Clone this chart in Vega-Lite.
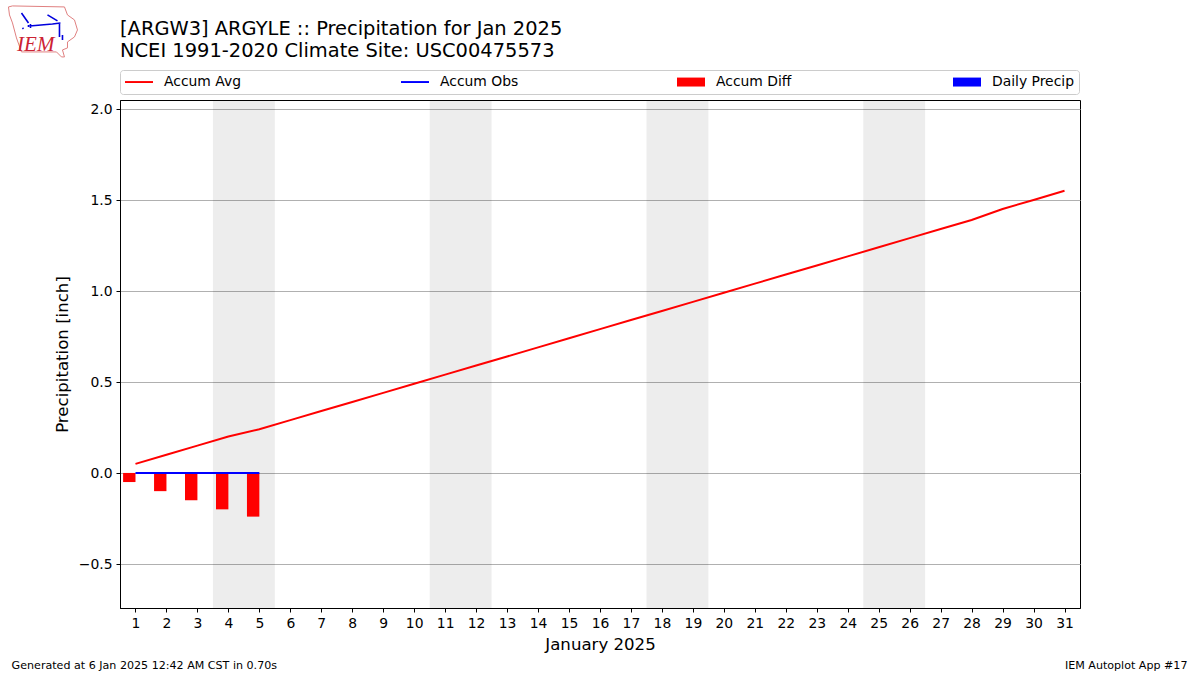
{
"$schema":"https://vega.github.io/schema/vega-lite/v6.json",
"width":960,"height":508,
"autosize":{"type":"none"},
"padding":{"left":120,"top":100,"right":120,"bottom":67},
"background":"white",
"title":{"text":["[ARGW3] ARGYLE :: Precipitation for Jan 2025","NCEI 1991-2020 Climate Site: USC00475573"],"anchor":"start","frame":"group","font":"DejaVu Sans","fontSize":19.44,"fontWeight":"normal","lineHeight":22,"color":"#000","offset":9,"dy":67},
"config":{"font":"DejaVu Sans","view":{"stroke":"#000","strokeWidth":1}},
"datasets":{
"series":[
{"day":1,"series":"Accum Avg","value":0.05},{"day":2,"series":"Accum Avg","value":0.10},{"day":3,"series":"Accum Avg","value":0.15},{"day":4,"series":"Accum Avg","value":0.20},{"day":5,"series":"Accum Avg","value":0.24},{"day":6,"series":"Accum Avg","value":0.29},{"day":7,"series":"Accum Avg","value":0.34},{"day":8,"series":"Accum Avg","value":0.39},{"day":9,"series":"Accum Avg","value":0.44},{"day":10,"series":"Accum Avg","value":0.49},{"day":11,"series":"Accum Avg","value":0.54},{"day":12,"series":"Accum Avg","value":0.59},{"day":13,"series":"Accum Avg","value":0.64},{"day":14,"series":"Accum Avg","value":0.69},{"day":15,"series":"Accum Avg","value":0.74},{"day":16,"series":"Accum Avg","value":0.79},{"day":17,"series":"Accum Avg","value":0.84},{"day":18,"series":"Accum Avg","value":0.89},{"day":19,"series":"Accum Avg","value":0.94},{"day":20,"series":"Accum Avg","value":0.99},{"day":21,"series":"Accum Avg","value":1.04},{"day":22,"series":"Accum Avg","value":1.09},{"day":23,"series":"Accum Avg","value":1.14},{"day":24,"series":"Accum Avg","value":1.19},{"day":25,"series":"Accum Avg","value":1.24},{"day":26,"series":"Accum Avg","value":1.29},{"day":27,"series":"Accum Avg","value":1.34},{"day":28,"series":"Accum Avg","value":1.39},{"day":29,"series":"Accum Avg","value":1.45},{"day":30,"series":"Accum Avg","value":1.50},{"day":31,"series":"Accum Avg","value":1.55},
{"day":1,"series":"Accum Obs","value":0},{"day":2,"series":"Accum Obs","value":0},{"day":3,"series":"Accum Obs","value":0},{"day":4,"series":"Accum Obs","value":0},{"day":5,"series":"Accum Obs","value":0},
{"day":1,"series":"Accum Diff","value":-0.05},{"day":2,"series":"Accum Diff","value":-0.10},{"day":3,"series":"Accum Diff","value":-0.15},{"day":4,"series":"Accum Diff","value":-0.20},{"day":5,"series":"Accum Diff","value":-0.24},
{"day":1,"series":"Daily Precip","value":0},{"day":2,"series":"Daily Precip","value":0},{"day":3,"series":"Daily Precip","value":0},{"day":4,"series":"Daily Precip","value":0},{"day":5,"series":"Daily Precip","value":0}
],
"weekends":[{"start":3.5,"end":5.5},{"start":10.5,"end":12.5},{"start":17.5,"end":19.5},{"start":24.5,"end":26.5}]
},
"data":{"name":"series"},
"encoding":{
"x":{"type":"quantitative","scale":{"domain":[0.5,31.5],"nice":false,"zero":false,"padding":0},
"axis":{"values":[1,2,3,4,5,6,7,8,9,10,11,12,13,14,15,16,17,18,19,20,21,22,23,24,25,26,27,28,29,30,31],"format":"d","grid":false,"labelAngle":0,"labelFontSize":13.9,"labelColor":"#000","labelPadding":4,"tickColor":"#000","tickSize":4,"domainColor":"#000","title":"January 2025","titleFontSize":16.6,"titleFontWeight":"normal","titleColor":"#000","titlePadding":7,"labelFlush":false,"labelOverlap":false}},
"y":{"type":"quantitative","scale":{"domain":[-0.742,2.049],"nice":false,"zero":false},
"axis":{"values":[-0.5,0,0.5,1,1.5,2],"format":".1f","grid":true,"gridColor":"#b0b0b0","gridWidth":1,"labelFontSize":13.9,"labelColor":"#000","labelPadding":4,"labelOffset":1,"tickColor":"#000","tickSize":4,"domainColor":"#000","title":"Precipitation [inch]","titleFontSize":16.6,"titleFontWeight":"normal","titleColor":"#000","titlePadding":8}},
"color":{"field":"series","type":"nominal","scale":{"domain":["Accum Avg","Accum Obs","Accum Diff","Daily Precip"],"range":["#ff0000","#0000ff","#ff0000","#0000ff"]},"legend":{"title":null,"orient":"none","legendX":0,"legendY":-30,"columns":4,"gridAlign":"all","columnPadding":155,"symbolSize":196,"symbolOpacity":1,"labelFontSize":13.9,"labelColor":"#000","labelOffset":25,"strokeColor":"#cccccc","cornerRadius":3,"fillColor":"#ffffff","padding":5,"symbolStrokeWidth":0,"values":["Accum Avg","Accum Obs","Accum Diff","Daily Precip"]}}
},
"layer":[
{"data":{"name":"weekends"},"mark":{"type":"rect","fill":"#000","opacity":0.07},
"encoding":{"color":{"value":"#000"},"x":{"field":"start","type":"quantitative"},"x2":{"field":"end"},"y":{"datum":-0.742},"y2":{"datum":2.049}}},
{"transform":[{"filter":"datum.series=='Accum Diff' || datum.series=='Daily Precip'"}],
"mark":{"type":"bar","width":12.4,"xOffset":-6.2},
"encoding":{"x":{"field":"day","type":"quantitative"},"y":{"field":"value","type":"quantitative"}}},
{"transform":[{"filter":"datum.series=='Accum Avg' || datum.series=='Accum Obs'"}],
"mark":{"type":"line","strokeWidth":2},
"encoding":{"x":{"field":"day","type":"quantitative"},"y":{"field":"value","type":"quantitative"}}},
{"mark":{"type":"point","filled":true,"size":0,"opacity":1},
"encoding":{"x":{"field":"day","type":"quantitative"},"y":{"field":"value","type":"quantitative"},
"shape":{"field":"series","type":"nominal","scale":{"domain":["Accum Avg","Accum Obs","Accum Diff","Daily Precip"],"range":["M-1,-0.14H3V0.14H-1Z","M-1,-0.14H3V0.14H-1Z","M-1,-0.64H3V0.64H-1Z","M-1,-0.64H3V0.64H-1Z"]}}}},
{"data":{"values":[{"note":"Generated at 6 Jan 2025 12:42 AM CST in 0.70s"}]},
"mark":{"type":"text","align":"left","baseline":"middle","fontSize":11.1},
"encoding":{"color":{"value":"#000"},"x":{"datum":-3},"y":{"datum":-1.06},"text":{"field":"note"}}},
{"data":{"values":[{"note":"IEM Autoplot App #17"}]},
"mark":{"type":"text","align":"right","baseline":"middle","fontSize":11.1},
"encoding":{"color":{"value":"#000"},"x":{"datum":34.97},"y":{"datum":-1.06},"text":{"field":"note"}}},
{"data":{"values":[{"note":"outline"}]},
"mark":{"type":"point","filled":false,"size":4,"opacity":1,"strokeWidth":1,"shape":"M-35,-25L-31,-26L21,-25L24,-17L31,-12L34,-2L31,5L24,10L24,16L19,18L21,25L18,25L13,20L-22,20L-27,6L-31,-9L-34,-17Z"},
"encoding":{"color":{"value":"#e08080"},"x":{"datum":-1.971},"y":{"datum":2.423}}},
{"data":{"values":[{"note":"rain gauge"}]},
"mark":{"type":"point","filled":false,"size":4,"opacity":1,"strokeWidth":1.6,"shape":"M-22,-19L-15,-9M-14,-6L9,-8L17,-9M4,-17L14,-11M16,-9L16,5M19,3L19,8M-13,-8L-13,-4M-15,-7L-15,-5M-21,-4L-20,-3"},
"encoding":{"color":{"value":"#0000dd"},"x":{"datum":-1.971},"y":{"datum":2.423}}},
{"data":{"values":[{"note":"IEM"}]},
"mark":{"type":"text","align":"center","baseline":"middle","font":"Liberation Serif","fontStyle":"italic","fontSize":21},
"encoding":{"color":{"value":"#cc2233"},"x":{"datum":-2.22},"y":{"datum":2.35},"text":{"field":"note"}}}
]
}
